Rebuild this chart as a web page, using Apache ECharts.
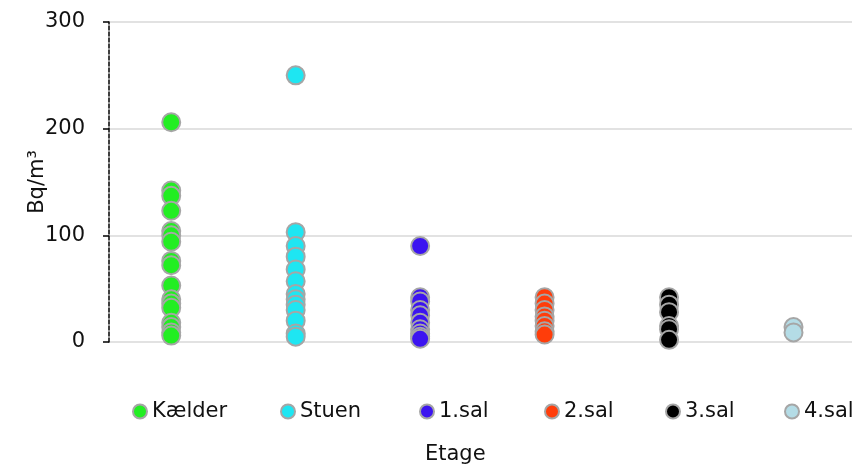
<!DOCTYPE html>
<html>
<head>
<meta charset="utf-8">
<script src="https://cdn.jsdelivr.net/npm/echarts@6/dist/echarts.min.js"></script>
<style>
html,body{margin:0;padding:0;background:#fff;}
#c{width:852px;height:468px;}
</style>
</head>
<body>
<div id="c"></div>
<script>
// Data
const categories = ["Kælder", "Stuen", "1.sal", "2.sal", "3.sal", "4.sal"];
const kaelder = [206, 142, 137, 123, 104, 100, 94, 76, 72, 53, 40, 36, 32, 18, 14, 9, 6];
const stuen = [250, 103, 90, 80, 68, 57, 45, 40, 35, 30, 20, 8, 5];
const sal1 = [90, 42, 38, 30, 25, 18, 12, 8, 5, 3];
const sal2 = [42, 36, 30, 24, 20, 15, 10, 7];
const sal3 = [42, 35, 28, 15, 12, 2];
const sal4 = [14, 9];
const yTicks = [0, 100, 200, 300];

const seriesValues = [kaelder, stuen, sal1, sal2, sal3, sal4];
const colors = ["#22EE22", "#1EE6F2", "#3C14F0", "#FF3D0A", "#000000", "#B4DCE6"];
const legendLefts = [127, 275, 414, 539, 660, 779];
const FONT = "DejaVu Sans";

const chart = echarts.init(document.getElementById('c'), null, {renderer: 'canvas'});

const series = categories.map((name, i) => ({
  name: name,
  type: 'scatter',
  data: seriesValues[i].map(v => [i + 1, v]),
  symbol: 'circle',
  symbolSize: 18,
  itemStyle: { color: colors[i], borderColor: '#A6A6A6', borderWidth: 2, opacity: 1 },
  emphasis: { disabled: true },
  animation: false
}));

const legends = categories.map((name, i) => ({
  data: [name],
  left: legendLefts[i],
  top: 396,
  orient: 'horizontal',
  icon: 'circle',
  itemWidth: 14,
  itemHeight: 14,
  itemGap: 0,
  textStyle: { fontFamily: FONT, fontSize: 21, color: '#111' },
  selectedMode: false
}));

chart.setOption({
  animation: false,
  backgroundColor: '#fff',
  title: {
    text: 'Etage',
    left: 420,
    top: 439,
    textStyle: { fontFamily: FONT, fontSize: 21, fontWeight: 'normal', color: '#111' }
  },
  legend: legends,
  grid: { left: 109, right: 0, top: 22, bottom: 126, containLabel: false },
  xAxis: {
    type: 'value',
    min: 0.5,
    max: 6.47,
    show: false
  },
  yAxis: {
    type: 'value',
    min: 0,
    max: 300,
    interval: 100,
    name: 'Bq/m³',
    nameLocation: 'middle',
    nameGap: 61,
    nameMoveOverlap: false,
    nameTextStyle: { fontFamily: FONT, fontSize: 21, color: '#111' },
    axisLine: { show: true, lineStyle: { color: '#000', width: 1.5, type: [4, 2] } },
    axisTick: { show: true, length: 6, lineStyle: { color: '#000', width: 1.5 } },
    axisLabel: {
      margin: 24,
      fontFamily: FONT, fontSize: 21, color: '#111',
      formatter: v => yTicks.includes(v) ? String(v) : ''
    },
    splitLine: { show: true, lineStyle: { color: '#D9D9D9', width: 1.5 } }
  },
  series: series
});
</script>
</body>
</html>
